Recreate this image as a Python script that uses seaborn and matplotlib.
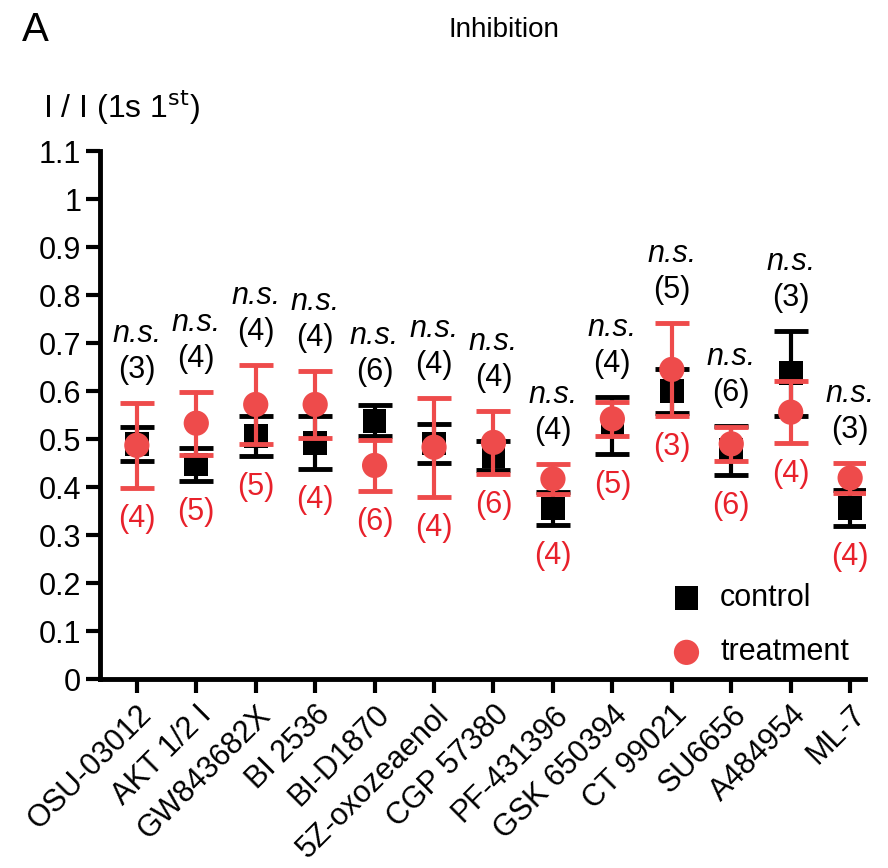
import matplotlib
matplotlib.use("Agg")
import matplotlib.pyplot as plt
import numpy as np
import pandas as pd
import seaborn as sns

drugs = ["OSU-03012", "AKT 1/2 I", "GW843682X", "BI 2536", "BI-D1870", "5Z-oxozeaenol",
         "CGP 57380", "PF-431396", "GSK 650394", "CT 99021", "SU6656", "A484954", "ML-7"]
control_mean = [0.490, 0.447, 0.506, 0.492, 0.538, 0.491, 0.465, 0.355, 0.528, 0.600, 0.477, 0.637, 0.356]
control_err = [0.036, 0.035, 0.042, 0.055, 0.032, 0.040, 0.030, 0.035, 0.060, 0.045, 0.051, 0.088, 0.037]
treat_mean = [0.487, 0.533, 0.572, 0.572, 0.445, 0.483, 0.493, 0.417, 0.542, 0.645, 0.490, 0.556, 0.419]
treat_err = [0.088, 0.066, 0.083, 0.070, 0.053, 0.103, 0.065, 0.032, 0.035, 0.097, 0.035, 0.064, 0.032]
control_n = [3, 4, 4, 4, 6, 4, 4, 4, 4, 5, 6, 3, 3]
treat_n = [4, 5, 5, 4, 6, 4, 6, 4, 5, 3, 6, 4, 4]
sig_labels = ["n.s."] * 13

RED = "#EE4B4B"
RED_TXT = "#E8212B"


def plot_inhibition():
    sns.set_style("ticks")
    plt.rcParams['font.family'] = ['Liberation Sans', 'DejaVu Sans']
    plt.rcParams['text.color'] = 'black'
    plt.rcParams['xtick.color'] = 'black'
    plt.rcParams['ytick.color'] = 'black'
    plt.rcParams['axes.labelcolor'] = 'black'

    df = pd.DataFrame({
        "drug": drugs * 2,
        "value": control_mean + treat_mean,
        "group": ["control"] * 13 + ["treatment"] * 13,
    })

    fig = plt.figure(figsize=(8.88, 8.68), dpi=100)
    ax = fig.add_axes([0.1126, 0.2177, 0.8615, 0.6083])
    x = np.arange(len(drugs))

    # control: black squares
    ax.errorbar(x, control_mean, yerr=control_err, fmt='none', ecolor='black',
                elinewidth=3, capsize=12, capthick=3.5, zorder=2)
    sns.scatterplot(data=df[df.group == "control"], x="drug", y="value", ax=ax,
                    marker='s', s=290, color='black', edgecolor='none',
                    label="control", zorder=3)

    # treatment: red circles
    ax.errorbar(x, treat_mean, yerr=treat_err, fmt='none', ecolor=RED,
                elinewidth=3, capsize=12, capthick=3.5, zorder=4)
    sns.scatterplot(data=df[df.group == "treatment"], x="drug", y="value", ax=ax,
                    marker='o', s=330, color=RED, edgecolor='none',
                    label="treatment", zorder=5)

    # n numbers and significance
    for i in range(len(drugs)):
        top = max(control_mean[i] + control_err[i], treat_mean[i] + treat_err[i])
        bot = min(control_mean[i] - control_err[i], treat_mean[i] - treat_err[i])
        ax.annotate(f"({control_n[i]})", (i, top), xytext=(0, 33), textcoords='offset pixels',
                    ha='center', va='center', fontsize=22, color='black')
        ax.annotate(sig_labels[i], (i, top), xytext=(0, 69), textcoords='offset pixels',
                    ha='center', va='center', fontsize=22, color='black', style='italic')
        ax.annotate(f"({treat_n[i]})", (i, bot), xytext=(0, -31), textcoords='offset pixels',
                    ha='center', va='center', fontsize=22, color=RED_TXT)

    ax.set_xlim(-0.62, 12.25)
    ax.set_ylim(0, 1.1)
    ax.set_yticks(np.arange(0, 1.11, 0.1))
    ax.set_yticklabels(["0", "0.1", "0.2", "0.3", "0.4", "0.5", "0.6", "0.7", "0.8", "0.9", "1", "1.1"])
    ax.set_xticks(x)
    ax.set_xticklabels(drugs, rotation=45, ha='right', rotation_mode='anchor')
    ax.tick_params(axis='both', labelsize=22, width=3, length=10, color='black')
    ax.tick_params(axis='x', pad=5, labelsize=22)
    ax.set_xlabel("")
    ax.set_ylabel("")
    sns.despine(ax=ax)
    for side in ["left", "bottom"]:
        ax.spines[side].set_linewidth(3.5)
        ax.spines[side].set_color('black')

    ax.legend(loc='lower right', frameon=False, fontsize=22, handletextpad=0.1,
              labelspacing=0.8, bbox_to_anchor=(1.015, -0.03), markerscale=1.0)

    fig.text(0.025, 0.965, "A", fontsize=29, va='center', ha='left')
    fig.text(0.567, 0.966, "Inhibition", fontsize=20, va='center', ha='center')
    fig.text(0.048, 0.877, r"I / I (1s 1$^{\mathrm{st}}$)", fontsize=23, va='center', ha='left')

    fig.savefig("out.png", dpi=100)
    plt.close(fig)


if __name__ == '__main__':
    plot_inhibition()
